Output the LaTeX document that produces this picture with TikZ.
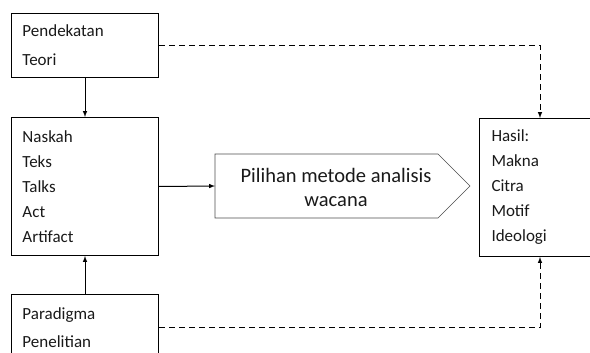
\documentclass[tikz,border=0pt]{standalone}
\usepackage{fontspec}
\setmainfont{Carlito}

\begin{document}
\begin{tikzpicture}[x=1pt,y=-1pt,
  box/.style={draw=black,line width=1pt,anchor=north west,align=left,
    inner xsep=11pt,inner ysep=0pt,text=black!90},
  arr/.style={line width=1pt,-latex},
  dash arr/.style={line width=1pt,dash pattern=on 6pt off 4pt,-latex}]
\useasboundingbox (0,0) rectangle (590,353);
\clip (0,0) rectangle (590,353);

\node[box,minimum width=147pt,minimum height=64pt,text width=125pt,
  font=\fontsize{17}{29}\selectfont] (teori) at (11,13) {Pendekatan\\Teori};
\node[box,minimum width=147pt,minimum height=138pt,text width=125pt,
  font=\fontsize{17}{25}\selectfont] (naskah) at (11,117) {Naskah\\Teks\\Talks\\Act\\Artifact};
\node[box,minimum width=147pt,minimum height=66pt,text width=125pt,
  font=\fontsize{17}{28}\selectfont] (paradigma) at (11,294) {Paradigma\\Penelitian};
\node[box,minimum width=120pt,minimum height=138pt,text width=97pt,inner xsep=12pt,
  font=\fontsize{17}{25}\selectfont] (hasil) at (479,118) {Hasil:\\Makna\\Citra\\Motif\\Ideologi};

% pentagon
\draw[draw=black!70,line width=0.7pt] (215,154) -- (438,154) -- (470,186) -- (438,218) -- (215,218) -- cycle;
\coordinate (metode in) at (215,186);
\node[align=center,inner sep=0pt,text=black!90,
  font=\fontsize{20.5}{24}\selectfont] (metode) at (336,187) {Pilihan metode analisis\\wacana};

\draw[arr] (teori.south) -- (naskah.north);
\draw[arr] (paradigma.north) -- (naskah.south);
\draw[arr] (naskah.east) -- (metode in);

\draw[dash arr] (teori.east) -| (hasil.north);
\draw[dash arr] (paradigma.east) -| (hasil.south);
\end{tikzpicture}
\end{document}
